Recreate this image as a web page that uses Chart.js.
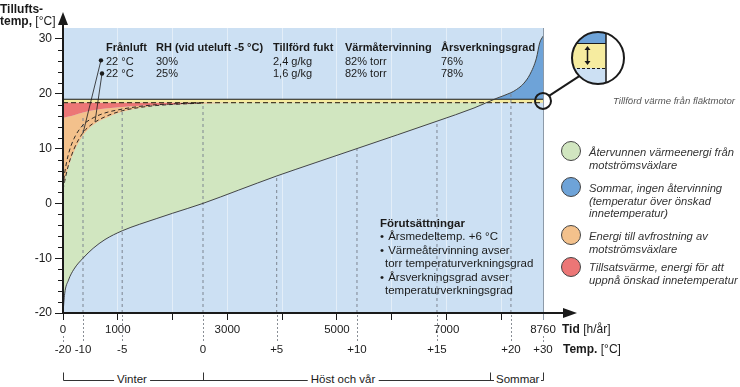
<!DOCTYPE html>
<html>
<head>
<meta charset="utf-8">
<script src="https://cdn.jsdelivr.net/npm/chart.js@4.4.7/dist/chart.umd.min.js"></script>
<style>
  html, body { margin: 0; padding: 0; background: #fff; }
  #wrap { position: relative; width: 740px; height: 387px; font-family: "Liberation Sans", Arial, sans-serif; color: #1a1a1a; overflow: hidden; }
  #wrap canvas { position: absolute; left: 0; top: 0; }
  .t { position: absolute; white-space: nowrap; font-size: 11px; line-height: 13px; }
  .b { font-weight: bold; }
  .n { font-weight: normal; }
  .lg { position: absolute; left: 589px; font-size: 11.2px; line-height: 12.5px; font-style: italic; color: #333; white-space: nowrap; }
  .dot { position: absolute; width: 20px; height: 20px; border: 1px solid #444; border-radius: 50%; box-sizing: border-box; }
  .pre { position: absolute; left: 380px; top: 217px; font-size: 11.5px; line-height: 13.4px; white-space: nowrap; }
  .pre .bl { display: inline-block; width: 5px; }
  .pre .ind { padding-left: 5px; }
  .season { position: absolute; top: 372px; font-size: 11.5px; line-height: 14px; background: #fff; padding: 0 3px; transform: translateX(-50%); white-space: nowrap; }
</style>
</head>
<body>
<div id="wrap">
  <canvas id="chart" width="740" height="387"></canvas>

  <div class="t b" style="left:0;top:3px;font-size:12px;line-height:12px">Tillufts-<br>temp, <span class="n">[°C]</span></div>
  <div class="t b" style="left:562px;top:322px;font-size:12px;line-height:14px">Tid <span class="n">[h/år]</span></div>
  <div class="t b" style="left:563px;top:342px;font-size:12px;line-height:14px">Temp. <span class="n">[°C]</span></div>

  <div class="t b" style="left:106px;top:41px">Frånluft</div>
  <div class="t b" style="left:156px;top:41px">RH (vid uteluft -5 °C)</div>
  <div class="t b" style="left:273px;top:41px">Tillförd fukt</div>
  <div class="t b" style="left:345px;top:41px">Värmåtervinning</div>
  <div class="t b" style="left:441px;top:41px">Årsverkningsgrad</div>
  <div class="t" style="left:106px;top:55px">22 °C</div>
  <div class="t" style="left:156px;top:55px">30%</div>
  <div class="t" style="left:273px;top:55px">2,4 g/kg</div>
  <div class="t" style="left:345px;top:55px">82% torr</div>
  <div class="t" style="left:441px;top:55px">76%</div>
  <div class="t" style="left:106px;top:67px">22 °C</div>
  <div class="t" style="left:156px;top:67px">25%</div>
  <div class="t" style="left:273px;top:67px">1,6 g/kg</div>
  <div class="t" style="left:345px;top:67px">82% torr</div>
  <div class="t" style="left:441px;top:67px">78%</div>

  <div class="pre">
    <div class="b">Förutsättningar</div>
    <div><span class="bl">•</span> Årsmedeltemp. +6 °C</div>
    <div><span class="bl">•</span> Värmeåtervinning avser</div>
    <div class="ind">torr temperaturverkningsgrad</div>
    <div><span class="bl">•</span> Årsverkningsgrad avser</div>
    <div class="ind">temperaturverkningsgrad</div>
  </div>

  <div class="dot" style="left:561px;top:141px;background:#d1e6c0"></div>
  <div class="dot" style="left:561px;top:177px;background:#6ea3d8"></div>
  <div class="dot" style="left:561px;top:225px;background:#f3c18c"></div>
  <div class="dot" style="left:561px;top:257px;background:#ec7676"></div>
  <div class="lg" style="top:146px">Återvunnen värmeenergi från<br>motströmsväxlare</div>
  <div class="lg" style="top:182px">Sommar, ingen återvinning<br>(temperatur över önskad<br>innetemperatur)</div>
  <div class="lg" style="top:230px">Energi till avfrostning av<br>motströmsväxlare</div>
  <div class="lg" style="top:261px">Tillsatsvärme, energi för att<br>uppnå önskad innetemperatur</div>

  <div class="t" style="left:613px;top:94px;font-size:9.6px;font-style:italic;color:#555">Tillförd värme från fläktmotor</div>

  <div class="season" style="left:132px">Vinter</div>
  <div class="season" style="left:343px">Höst och vår</div>
  <div class="season" style="left:494px;transform:none;padding:0 2px">Sommar</div>
</div>

<script>
// hours of the year (duration curve) and temperatures
const hours = [0, 30, 100, 200, 365, 550, 766, 1080, 1400, 1700, 2000, 2555, 3200, 3900, 4600, 5365, 6100, 6825, 7500, 7920, 8175, 8280, 8400, 8520, 8640, 8700, 8760];
const outdoorTemp = [-20, -16.5, -14, -12, -10, -8.2, -6.6, -5, -3.8, -2.8, -1.8, 0, 2.4, 5, 7.4, 10, 12.5, 15, 17.4, 19.2, 20.2, 20.8, 21.8, 23.5, 26.5, 29.3, 30.5];
const recoveredTemp = [2.2, 4.2, 6.6, 9.4, 12.4, 14.3, 15.5, 16.7, 17.4, 17.8, 18.0, 18.2, 18.3, 18.3, 18.3, 18.3, 18.3, 18.3, 18.3, 18.3, 18.3, 18.3, 18.3, 18.3, 18.3, 18.3, 18.3];
const defrostTemp = [15.6, 15.65, 15.85, 16.1, 16.6, 17.0, 17.3, 17.6, 17.8, 17.95, 18.05, 18.3, 18.4, 18.4, 18.4, 18.4, 18.4, 18.4, 18.4, 18.4, 18.4, 18.4, 18.4, 18.4, 18.4, 18.4, 18.4];
const curve76 = [3.0, 5.5, 9.0, 11.8, 14.3, 15.6, 16.5, 17.2, 17.7, 18.0, 18.15, 18.35];
const curve78 = [2.5, 4.0, 7.0, 9.9, 12.9, 14.6, 15.8, 16.9, 17.5, 17.85, 18.05, 18.3];
const supplyTemp = 18.4;
const fanTemp = 19.0;
const fanMarkTemp = 18.7;

const hourTicks = [0, 1000, 2000, 3000, 4000, 5000, 6000, 7000, 8000, 8760];
const hourLabels = ['0', '1000', '', '3000', '', '5000', '', '7000', '', '8760'];
const tempHours = [0, 365, 1080, 2555, 3900, 5365, 6825, 8175, 8760];
const tempLabels = ['-20', '-10', '-5', '0', '+5', '+10', '+15', '+20', '+30'];
const tempMarkTop = [-20, 15.8, 17.3, 18.2, 5, 10, 15, 20, -20];
const yTicks = [-20, -10, 0, 10, 20, 30];
const seasonHours = [0, 2555, 7790, 8760];
const leaderHours = [[693, 365], [712, 584]];
const leaderTemps = [[26.1, 12.8], [23.7, 14.9]];

const INK = '#1a1a1a';
const BG = '#cce0f3';
const GREEN = '#d1e6c0';
const DARK_BLUE = '#6ea3d8';
const ORANGE = '#f3c18c';
const RED = '#ec7676';
const YELLOW = '#f6eca0';

const pts = (ys) => ys.map((y, i) => ({ x: hours[i], y }));
const flat = (v) => hours.map((h) => ({ x: h, y: v }));

const decor = {
  id: 'decor',
  beforeDraw(chart) {
    const { ctx, chartArea: a } = chart;
    ctx.save();
    ctx.fillStyle = BG;
    ctx.fillRect(a.left, a.top, a.right - a.left, a.bottom - a.top);
    ctx.restore();
  },
  afterDraw(chart) {
    const { ctx, chartArea: a } = chart;
    const { x, y } = chart.scales;
    ctx.save();
    ctx.strokeStyle = INK;
    ctx.fillStyle = INK;

    // minor ticks on the y axis
    ctx.lineWidth = 1;
    for (let v = -18; v < 32; v += 2) {
      if (v % 10 === 0) continue;
      const py = Math.round(y.getPixelForValue(v)) + 0.5;
      ctx.beginPath(); ctx.moveTo(a.left - 5, py); ctx.lineTo(a.left, py); ctx.stroke();
    }

    // axis arrows
    ctx.lineWidth = 2;
    ctx.beginPath(); ctx.moveTo(a.right, a.bottom); ctx.lineTo(565, a.bottom); ctx.stroke();
    ctx.beginPath(); ctx.moveTo(563, a.bottom - 5); ctx.lineTo(577, a.bottom); ctx.lineTo(563, a.bottom + 5); ctx.closePath(); ctx.fill();
    ctx.beginPath(); ctx.moveTo(a.left, a.top); ctx.lineTo(a.left, 23); ctx.stroke();
    ctx.beginPath(); ctx.moveTo(a.left - 5, 25); ctx.lineTo(a.left, 12); ctx.lineTo(a.left + 5, 25); ctx.closePath(); ctx.fill();

    // dashed guides between hour and temperature labels
    ctx.lineWidth = 1;
    ctx.strokeStyle = '#8a8f96';
    ctx.setLineDash([2, 2]);
    tempHours.forEach((h) => {
      const px = Math.round(x.getPixelForValue(h)) + 0.5;
      const from = (h === 0 || h === 8760) ? a.bottom + 23 : a.bottom + 2;
      ctx.beginPath(); ctx.moveTo(px, from); ctx.lineTo(px, a.bottom + 30); ctx.stroke();
    });
    ctx.setLineDash([]);

    // season brackets
    const by = 380.5;
    const sx = seasonHours.map((h) => Math.round(x.getPixelForValue(h)) + 0.5);
    ctx.strokeStyle = '#333';
    ctx.beginPath();
    ctx.moveTo(sx[0], by); ctx.lineTo(sx[3], by);
    sx.forEach((px) => { ctx.moveTo(px, by - 8); ctx.lineTo(px, by); });
    ctx.stroke();

    // fan heat marker and lens
    const fx = x.getPixelForValue(8760);
    const fy = y.getPixelForValue(fanMarkTemp);
    ctx.strokeStyle = INK;
    ctx.lineWidth = 2;
    ctx.beginPath(); ctx.arc(fx, fy, 8, 0, Math.PI * 2); ctx.stroke();
    const cx = 598, cy = 58, r = 26;
    ctx.beginPath(); ctx.moveTo(fx + 6, fy - 5); ctx.lineTo(cx - r * 0.72, cy + r * 0.7); ctx.stroke();
    ctx.save();
    ctx.beginPath(); ctx.arc(cx, cy, r, 0, Math.PI * 2); ctx.clip();
    const ex = cx + 8, lx = cx - r;
    ctx.fillStyle = '#fff'; ctx.fillRect(cx - r, cy - r, 2 * r, 2 * r);
    ctx.fillStyle = DARK_BLUE; ctx.fillRect(lx, cy - r, ex - lx, 43 - (cy - r));
    ctx.fillStyle = YELLOW; ctx.fillRect(lx, 43, ex - lx, 25);
    ctx.fillStyle = BG; ctx.fillRect(lx, 68, ex - lx, cy + r - 68);
    ctx.lineWidth = 1;
    ctx.beginPath(); ctx.moveTo(lx, 43.5); ctx.lineTo(ex, 43.5); ctx.stroke();
    ctx.setLineDash([3, 2]);
    ctx.beginPath(); ctx.moveTo(lx, 68.5); ctx.lineTo(ex, 68.5); ctx.stroke();
    ctx.setLineDash([]);
    ctx.lineWidth = 1.5;
    ctx.beginPath(); ctx.moveTo(ex, cy - r); ctx.lineTo(ex, cy + r); ctx.stroke();
    const ax = 587.5;
    ctx.beginPath(); ctx.moveTo(ax, 48); ctx.lineTo(ax, 63); ctx.stroke();
    ctx.fillStyle = INK;
    ctx.beginPath(); ctx.moveTo(ax - 3, 50); ctx.lineTo(ax, 46); ctx.lineTo(ax + 3, 50); ctx.closePath(); ctx.fill();
    ctx.beginPath(); ctx.moveTo(ax - 3, 61); ctx.lineTo(ax, 65); ctx.lineTo(ax + 3, 61); ctx.closePath(); ctx.fill();
    ctx.restore();
    ctx.lineWidth = 2;
    ctx.beginPath(); ctx.arc(cx, cy, r, 0, Math.PI * 2); ctx.stroke();
    ctx.restore();
  },
};

Chart.defaults.font.family = '"Liberation Sans", Arial, sans-serif';
Chart.defaults.color = INK;

const leaders = leaderHours.map((hs, k) => ({
  data: hs.map((h, i) => ({ x: h, y: leaderTemps[k][i] })),
  borderColor: INK, borderWidth: 0.8, tension: 0, fill: false,
  pointRadius: [2.2, 0], pointBackgroundColor: INK, pointBorderWidth: 0,
}));

new Chart(document.getElementById('chart'), {
  type: 'line',
  data: {
    datasets: [
      ...leaders,                                                                  // 0, 1
      { data: pts(outdoorTemp), borderColor: '#333', borderWidth: 0.9, cubicInterpolationMode: 'monotone', fill: false },   // 2
      { data: pts(curve76), borderColor: INK, borderWidth: 0.9, borderDash: [4, 3], cubicInterpolationMode: 'monotone', fill: false }, // 3
      { data: pts(curve78), borderColor: INK, borderWidth: 0.9, borderDash: [4, 3], cubicInterpolationMode: 'monotone', fill: false }, // 4
      { data: tempHours.flatMap((h, i) => [{ x: h, y: -20 }, { x: h, y: tempMarkTop[i] }, { x: h, y: null }]),
        borderColor: '#7d8590', borderWidth: 1, borderDash: [3, 3], tension: 0, fill: false }, // 5
      { data: flat(fanTemp), borderColor: INK, borderWidth: 1.2, tension: 0, fill: 7, backgroundColor: YELLOW },   // 6
      { data: flat(supplyTemp), borderColor: '#4a3f2a', borderWidth: 1.2, borderDash: [5, 3], tension: 0, fill: 8, backgroundColor: RED }, // 7
      { data: pts(defrostTemp), borderWidth: 0, cubicInterpolationMode: 'monotone', fill: 9, backgroundColor: ORANGE }, // 8
      { data: pts(recoveredTemp), borderWidth: 0, cubicInterpolationMode: 'monotone', fill: { target: 10, above: GREEN, below: 'transparent' } }, // 9
      { data: pts(outdoorTemp), borderWidth: 0, cubicInterpolationMode: 'monotone', fill: { target: 6, above: DARK_BLUE, below: 'transparent' } }, // 10
    ],
  },
  options: {
    responsive: false,
    devicePixelRatio: 1,
    animation: false,
    events: [],
    layout: { padding: { left: 0, top: 28, right: 197, bottom: 28 } },
    elements: { point: { radius: 0 } },
    plugins: {
      legend: { display: false },
      tooltip: { enabled: false },
      filler: { drawTime: 'beforeDatasetsDraw' },
    },
    scales: {
      x: {
        type: 'linear', min: 0, max: 8760, position: 'bottom', weight: 0,
        afterBuildTicks: (s) => { s.ticks = hourTicks.map((v) => ({ value: v })); },
        afterFit: (s) => { s.height = 24; },
        ticks: { autoSkip: false, maxRotation: 0, padding: 3, color: INK, font: { size: 11.5 }, callback: (v, i) => hourLabels[i] },
        grid: {
          drawOnChartArea: true, tickLength: 7, lineWidth: 1,
          color: (c) => (c.tick.value === 0 ? 'transparent' : c.tick.value === 8760 ? '#8d9aa8' : 'rgba(255,255,255,0.45)'),
          tickColor: (c) => (c.tick.value === 8760 ? '#8d9aa8' : INK),
        },
        border: { display: true, color: INK, width: 2, z: 1 },
      },
      xt: {
        type: 'linear', min: 0, max: 8760, position: 'bottom', weight: 1,
        afterBuildTicks: (s) => { s.ticks = tempHours.map((v) => ({ value: v })); },
        afterFit: (s) => { s.height = 22; },
        ticks: { autoSkip: false, maxRotation: 0, padding: 6, color: INK, font: { size: 11.5 }, callback: (v, i) => tempLabels[i] },
        grid: { display: false, drawTicks: false },
        border: { display: false },
      },
      y: {
        min: -20, max: 32,
        afterBuildTicks: (s) => { s.ticks = yTicks.map((v) => ({ value: v })); },
        afterFit: (s) => { s.width = 63; },
        ticks: { padding: 3, color: INK, font: { size: 12 }, callback: (v) => String(v) },
        grid: { drawOnChartArea: false, tickLength: 8, tickColor: INK },
        border: { color: INK, width: 2, z: 1 },
      },
    },
  },
  plugins: [decor],
});
</script>
</body>
</html>
